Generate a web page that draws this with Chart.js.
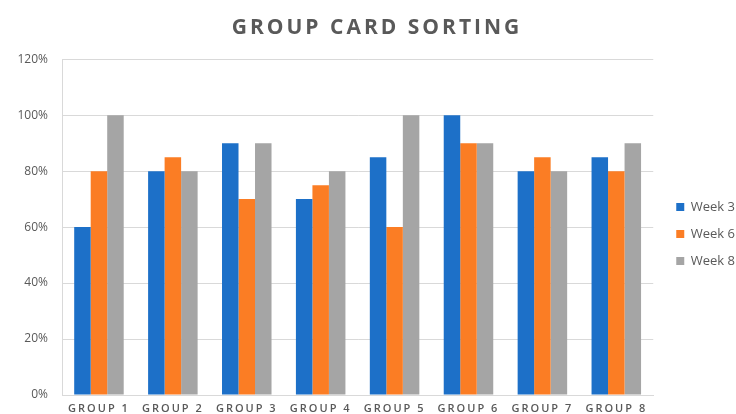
<!DOCTYPE html>
<html>
<head>
<meta charset="utf-8">
<script src="https://cdn.jsdelivr.net/npm/chart.js@4"></script>
<style>
  html, body { margin: 0; padding: 0; background: #fff; }
  #wrap { width: 736px; height: 414px; }
</style>
</head>
<body>
<div id="wrap"><canvas id="chart"></canvas></div>
<script>
const groups = ['GROUP 1', 'GROUP 2', 'GROUP 3', 'GROUP 4', 'GROUP 5', 'GROUP 6', 'GROUP 7', 'GROUP 8'];
const week3 = [60, 80, 90, 70, 85, 100, 80, 85];
const week6 = [80, 85, 70, 75, 60, 90, 85, 80];
const week8 = [100, 80, 90, 80, 100, 90, 80, 90];
const yTicks = [0, 20, 40, 60, 80, 100, 120];

const textGray = '#595959';
const gridGray = '#d9d9d9';

// letter spacing for the title and the category labels, legend/title nudged like the original
const tweaks = {
    id: 'tweaks',
    afterLayout(chart) {
        const x = chart.scales.x;
        if (!x._spaced) {
            const orig = x.drawLabels;
            x.drawLabels = function (area) {
                this.ctx.save();
                this.ctx.letterSpacing = '2px';
                orig.call(this, area);
                this.ctx.restore();
            };
            x._spaced = true;
        }
        const t = chart.titleBlock;
        if (t && !t._spaced) {
            const origT = t.draw;
            t.draw = function () {
                this.ctx.save();
                this.ctx.letterSpacing = '3px';
                origT.apply(this, arguments);
                this.ctx.restore();
            };
            t._spaced = true;
        }
        t.left += 18;
        const lg = chart.legend;
        lg.top += 54;
        lg.left += 9;
    }
};

new Chart(document.getElementById('chart'), {
    type: 'bar',
    data: {
        labels: groups,
        datasets: [
            { label: 'Week 3', data: week3, backgroundColor: '#1d70c8' },
            { label: 'Week 6', data: week6, backgroundColor: '#fb7d24' },
            { label: 'Week 8', data: week8, backgroundColor: '#a5a5a5' }
        ]
    },
    options: {
        responsive: true,
        maintainAspectRatio: false,
        animation: false,
        layout: { padding: 0 },
        datasets: { bar: { barPercentage: 1, categoryPercentage: 0.67 } },
        plugins: {
            title: {
                display: true,
                text: 'GROUP CARD SORTING',
                color: textGray,
                font: { family: 'Open Sans', size: 21, weight: 'bold' },
                padding: { top: 15, bottom: 19 }
            },
            legend: {
                position: 'right',
                labels: {
                    boxWidth: 8,
                    boxHeight: 8,
                    padding: 14,
                    color: textGray,
                    font: { family: 'Open Sans', size: 13 }
                }
            },
            tooltip: { enabled: false }
        },
        scales: {
            x: {
                grid: { display: false, drawTicks: false },
                border: { color: gridGray },
                afterFit: (s) => { s.height = 19; },
                ticks: {
                    color: textGray,
                    padding: 7,
                    maxRotation: 0,
                    autoSkip: false,
                    font: { family: 'Open Sans', size: 11, weight: '600' }
                }
            },
            y: {
                min: 0,
                max: 120,
                afterBuildTicks: (scale) => { scale.ticks = yTicks.map(v => ({ value: v })); },
                afterFit: (s) => { s.width = 62; s.paddingBottom = 0; },
                grid: { color: gridGray, drawTicks: false },
                border: { display: true, color: gridGray },
                ticks: {
                    color: textGray,
                    padding: 14,
                    font: { family: 'Open Sans', size: 12 },
                    callback: (v) => v + '%'
                }
            }
        }
    },
    plugins: [tweaks]
});
</script>
</body>
</html>
